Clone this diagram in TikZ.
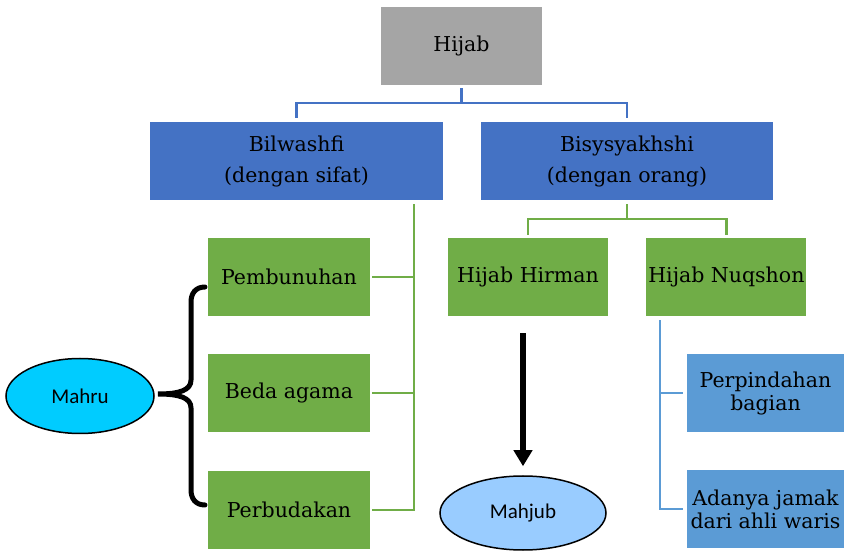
\documentclass[tikz,border=0pt]{standalone}
\usepackage{fontspec}
\setmainfont{DejaVu Serif}
\newfontfamily\ovalfont{Carlito}
\usepackage{xcolor}
\usetikzlibrary{positioning}
\usetikzlibrary{shapes.geometric, arrows.meta, positioning}

\definecolor{hgray}{HTML}{A5A5A5}
\definecolor{hblue}{HTML}{4472C4}
\definecolor{hgreen}{HTML}{70AD47}
\definecolor{hlight}{HTML}{5B9BD5}
\definecolor{hcyan}{HTML}{00CCFF}
\definecolor{hsky}{HTML}{99CCFF}

\begin{document}
\begin{tikzpicture}[
    x=1pt, y=1pt,
    node distance = 38pt and 38pt,% for distance between nodes
       box/.style = {inner sep=1pt, minimum width=162pt, minimum height=78pt, align=center,
                     font=\fontsize{20.5}{23}\selectfont},% nodes style
      wide/.style = {box, fill=hblue, minimum width=293pt, font=\fontsize{20.5}{31}\selectfont},
      leaf/.style = {box, fill=hgreen},
      part/.style = {box, fill=hlight, minimum width=157pt},
      oval/.style = {ellipse, draw, line width=1.5pt, inner sep=0pt, font=\ovalfont\fontsize{21}{24}\selectfont},
     bline/.style = {hblue, line width=2.2pt},
     gline/.style = {hgreen, line width=2.2pt},
     lline/.style = {hlight, line width=2.2pt}
    ]
    \useasboundingbox (0,0) rectangle (844,552);
    \node (hijab) [box, fill=hgray, minimum width=161pt] at (461.5,506) {Hijab};
    \node (bil) [wide] at (296.5,391) {Bilwashfi\\(dengan sifat)};
    \node (bis) [wide, minimum width=292pt] at (627,391) {Bisysyakhshi\\(dengan orang)};
    \node (pemb) [leaf] at (289,275) {Pembunuhan};
    \node (beda) [leaf, below=of pemb] {Beda agama};
    \node (perbud) [leaf, below=of beda] {Perbudakan};
    \node (hirman) [leaf, minimum width=160pt] at (528,275) {Hijab Hirman};
    \node (nuqshon) [leaf, minimum width=160pt, right=of hirman] {Hijab Nuqshon};
    \node (perp) [part] at (765.5,159) {Perpindahan\\bagian};
    \node (adanya) [part, below=of perp] {Adanya jamak\\dari ahli waris};
    \node (mahru) [oval, fill=hcyan, minimum width=148pt, minimum height=75pt] at (80,156) {Mahru};
    \node (mahjub) [oval, fill=hsky, minimum width=166pt, minimum height=74pt] at (523,39) {Mahjub};
    % top level
    \draw[bline, shorten <=3pt, shorten >=4pt] (hijab.south) -- ++(0,-18) -| (bil.north);
    \draw[bline, shorten <=3pt, shorten >=4pt] (hijab.south) -- ++(0,-18) -| (bis.north);
    % bilwashfi
    \coordinate (gtop) at ([xshift=-29pt,yshift=-4pt]bil.south east);
    \draw[gline] (gtop) |- ([xshift=2pt]pemb.east);
    \draw[gline] (gtop) |- ([xshift=2pt]beda.east);
    \draw[gline] (gtop) |- ([xshift=2pt]perbud.east);
    % bisysyakhshi
    \draw[gline, shorten <=4pt, shorten >=3pt] (bis.south) -- ++(0,-19) -| (hirman.north);
    \draw[gline, shorten <=4pt, shorten >=3pt] (bis.south) -- ++(0,-19) -| (nuqshon.north);
    \coordinate (ltop) at ([xshift=14pt,yshift=-4pt]nuqshon.south west);
    \draw[lline] (ltop) |- ([xshift=-4pt]perp.west);
    \draw[lline] (ltop) |- ([xshift=-4pt]adanya.west);
    \draw[-{Triangle[width=18pt,length=16pt]}, line width=6pt, shorten <=17pt, shorten >=9pt]
        (mahjub.north |- hirman.south) -- (mahjub.north);
    % brace
    \draw[line width=5pt, line cap=round] (205,265) .. controls (195,265) and (191,258) .. (191,250)
        -- (191,172) .. controls (191,162) and (180,158) .. (158,158)
        .. controls (180,158) and (191,154) .. (191,144) -- (191,62)
        .. controls (191,54) and (195,47) .. (205,47);
\end{tikzpicture}
\end{document}
